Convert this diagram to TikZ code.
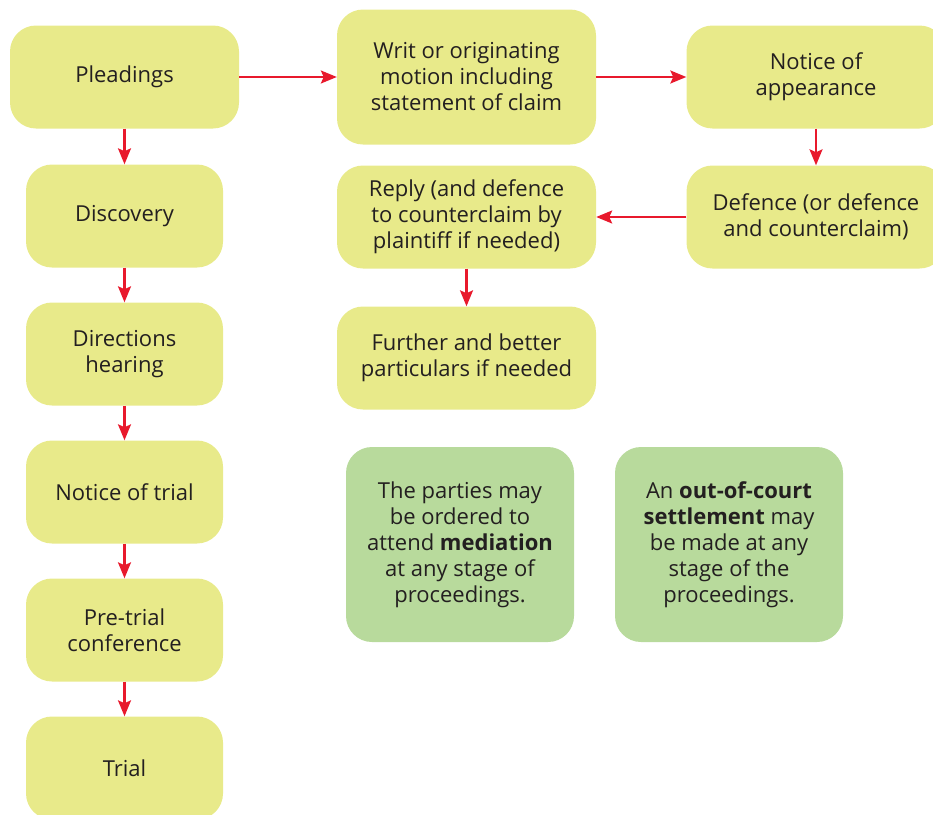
\documentclass[tikz,border=0pt]{standalone}
\usepackage{fontspec}
\setmainfont{Open Sans}
\usepackage{tikz}
\usetikzlibrary{arrows.meta, positioning, calc}

\definecolor{stagefill}{RGB}{232,234,138}
\definecolor{notefill}{RGB}{184,218,156}
\definecolor{flowred}{RGB}{232,25,44}
\definecolor{inktext}{RGB}{35,31,32}

\begin{document}
\begin{tikzpicture}[
    x=1pt, y=-1pt,
    >=Stealth,
    font=\fontsize{22}{26}\selectfont,
    stage/.style={rectangle, rounded corners=26pt, fill=stagefill,
                  text=inktext, align=center, inner sep=0pt,
                  minimum width=197pt, minimum height=103pt},
    widestage/.style={stage, minimum width=259pt},
    note/.style={stage, fill=notefill, minimum width=228pt,
                 minimum height=195pt},
    flowarrow/.style={-{Stealth[length=16pt,width=13pt,inset=3pt]},
                      line width=2.2pt, flowred},
]
\useasboundingbox (0,0) rectangle (933,814);

% ============================================================
% Left column (main stages)
% ============================================================
\node[stage, minimum width=229pt] (plead) at (124.5, 77) {Pleadings};
\node[stage] (disc)  at (124.5, 216) {Discovery};
\node[stage] (dirs)  at (124.5, 354) {Directions\\hearing};
\node[stage] (ntri)  at (124.5, 492) {Notice of trial};
\node[stage] (pret)  at (124.5, 630) {Pre-trial\\conference};
\node[stage] (trial) at (124.5, 768) {Trial};

% ============================================================
% Pleadings in detail
% ============================================================
\node[widestage, minimum height=135pt] (writ) at (466.5, 77)
    {Writ or originating\\motion including\\statement of claim};
\node[widestage] (appear) at (816, 77) {Notice of\\appearance};
\node[widestage] (defn)   at (816, 217) {Defence (or defence\\and counterclaim)};
\node[widestage] (reply)  at (466.5, 217)
    {Reply (and defence\\to counterclaim by\\plaintiff if needed)};
\node[widestage] (furth)  at (466.5, 358)
    {Further and better\\particulars if needed};

% ============================================================
% Notes
% ============================================================
\node[note] (medi) at (460, 544.5)
    {The parties may\\be ordered to\\attend \textbf{mediation}\\at any stage of\\proceedings.};
\node[note] (settle) at (729, 544.5)
    {An \textbf{out-of-court}\\\textbf{settlement} may\\be made at any\\stage of the\\proceedings.};

% ============================================================
% Flow arrows
% ============================================================
\draw[flowarrow] (plead) -- (disc);
\draw[flowarrow] (disc) -- (dirs);
\draw[flowarrow] (dirs) -- (ntri);
\draw[flowarrow] (ntri) -- (pret);
\draw[flowarrow] (pret) -- (trial);

\draw[flowarrow] (plead) -- (writ);
\draw[flowarrow] (writ) -- (appear);
\draw[flowarrow] (appear) -- (defn);
\draw[flowarrow] (defn) -- (reply);
\draw[flowarrow] (reply) -- (furth);

\end{tikzpicture}
\end{document}
